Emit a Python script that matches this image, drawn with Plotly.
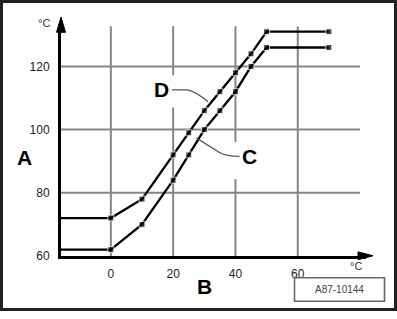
import plotly.graph_objects as go

W, H = 397, 319

# ---- data ----
x_vals = [-16, 0, 10, 20, 25, 30, 35, 40, 45, 50, 70]
d_vals = [72, 72, 78, 92, 99, 106, 112, 118, 124, 131, 131]
c_vals = [62, 62, 70, 84, 92, 100, 106, 112, 120, 126, 126]
x_ticks = [0, 20, 40, 60]
y_ticks = [60, 80, 100, 120]
y_grid = [80, 100, 120]

def px(x):
    return x / W

def py(y):
    return 1 - y / H

X0, X1 = 61, 366.3
Y0, Y1 = 261.7, 25
XR = [-16, 82]
YR = [60, 133.3]

GRID = "#858585"
FONT = "Liberation Sans, Arial, sans-serif"

fig = go.Figure()

msize = [0] + [6] * (len(x_vals) - 1)
for vals in (d_vals, c_vals):
    fig.add_trace(go.Scatter(
        x=x_vals, y=vals, mode="lines+markers",
        line=dict(color="black", width=2.3),
        marker=dict(symbol="square", size=msize, color="black"),
        cliponaxis=False, showlegend=False, hoverinfo="skip"))

shapes = []
# vertical grid segments (with gaps for the leader lines)
vgrid = {0: [(60, 132.7)], 20: [(60, 107), (117.2, 132.7)],
         40: [(60, 84.4), (96.1, 132.7)], 60: [(60, 132.7)]}
for xv, segs in vgrid.items():
    for a, b in segs:
        shapes.append(dict(type="line", xref="x", yref="y", x0=xv, x1=xv, y0=a, y1=b,
                           line=dict(color=GRID, width=2), layer="below"))
for yv in y_grid:
    shapes.append(dict(type="line", xref="x", yref="y", x0=-16, x1=80, y0=yv, y1=yv,
                       line=dict(color=GRID, width=2), layer="below"))

# leader lines
shapes.append(dict(type="path", xref="x", yref="y",
                   path="M 19.6 112.6 L 24.6 112.6 Q 27.5 112 31.2 108.8",
                   line=dict(color="#555", width=1.3)))
shapes.append(dict(type="path", xref="x", yref="y",
                   path="M 27.4 97.4 L 34.5 93 Q 36.5 91.6 41.3 91.5",
                   line=dict(color="#555", width=1.3)))

# axis arrowheads
shapes.append(dict(type="path", xref="paper", yref="paper",
                   path=f"M {px(61)} {py(17.5)} L {px(56.5)} {py(33)} L {px(65.5)} {py(33)} Z",
                   fillcolor="black", line=dict(color="black", width=1)))
shapes.append(dict(type="path", xref="paper", yref="paper",
                   path=f"M {px(373)} {py(261.5)} L {px(358)} {py(257.5)} L {px(358)} {py(265.5)} Z",
                   fillcolor="black", line=dict(color="black", width=1)))

# reference code box
shapes.append(dict(type="rect", xref="paper", yref="paper",
                   x0=px(294.5), x1=px(384.5), y0=py(308), y1=py(284),
                   line=dict(color="#666", width=1.6)))
# outer frame
shapes.append(dict(type="rect", xref="paper", yref="paper",
                   x0=px(1.5), x1=px(395.5), y0=py(316.5), y1=py(1.5),
                   line=dict(color="#222", width=3)))

def big(t, x, y):
    return dict(text=f"<b>{t}</b>", x=px(x), y=py(y), xref="paper", yref="paper",
                showarrow=False, font=dict(family=FONT, size=21, color="black"),
                xanchor="center", yanchor="middle")

annotations = [
    big("A", 24, 161), big("B", 205, 293), big("D", 161, 92), big("C", 249, 160),
    dict(text="°C", x=px(44), y=py(24), xref="paper", yref="paper", showarrow=False,
         font=dict(family=FONT, size=11, color="#333"), xanchor="center", yanchor="middle"),
    dict(text="°C", x=px(356), y=py(272), xref="paper", yref="paper", showarrow=False,
         font=dict(family=FONT, size=11, color="#333"), xanchor="center", yanchor="middle"),
    dict(text="A87-10144", x=px(339.5), y=py(296), xref="paper", yref="paper", showarrow=False,
         font=dict(family=FONT, size=10, color="#444"), xanchor="center", yanchor="middle"),
]

fig.update_layout(
    width=W, height=H,
    margin=dict(l=0, r=0, t=0, b=0, pad=0),
    paper_bgcolor="white", plot_bgcolor="white",
    shapes=shapes, annotations=annotations,
    xaxis=dict(domain=[px(X0), px(X1)], range=XR, showgrid=False, zeroline=False,
               showline=True, linecolor="black", linewidth=3,
               tickmode="array", tickvals=x_ticks, ticktext=[str(v) for v in x_ticks],
               ticks="", ticklabelstandoff=5,
               tickfont=dict(family=FONT, size=12, color="#222")),
    yaxis=dict(domain=[py(Y0), py(Y1)], range=YR, showgrid=False, zeroline=False,
               showline=True, linecolor="black", linewidth=3,
               tickmode="array", tickvals=y_ticks, ticktext=[str(v) for v in y_ticks],
               ticks="", ticklabelstandoff=6,
               tickfont=dict(family=FONT, size=12, color="#222")),
)

fig.write_html("out.html")
